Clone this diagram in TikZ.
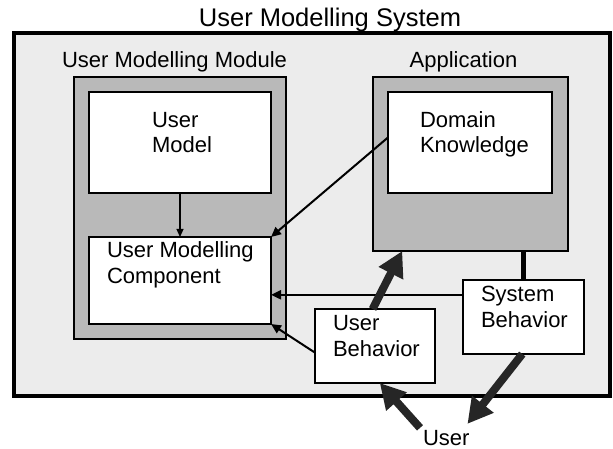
\documentclass[tikz,border=0pt]{standalone}
\usepackage{fontspec}
\setmainfont{Liberation Sans}
\usetikzlibrary{arrows.meta,calc}
\begin{document}
\begin{tikzpicture}[x=1pt,y=-1pt,
  lbl/.style={font=\fontsize{22}{25}\selectfont, inner sep=0pt, outer sep=0pt, anchor=base west},
  head/.style={font=\fontsize{22}{25}\selectfont, inner sep=0pt, anchor=base},
  panel/.style={draw, line width=2.2pt, fill=gray!55, inner sep=0pt, outer sep=0pt, anchor=north west},
  wbox/.style={draw, line width=2.2pt, fill=white, inner sep=0pt, outer sep=0pt, anchor=north west},
  fine/.style={line width=1.2pt, -{Triangle[length=8pt,width=7pt]}},
  link/.style={line width=2pt, -{Triangle[length=10pt,width=9pt]}},
  fat/.style={line width=8pt, black!85, -{Triangle[length=25pt,width=26pt]}},
]
\useasboundingbox (0,0) rectangle (613,449);

% system frame and its title
\node[draw, line width=3.5pt, fill=gray!15, inner sep=0pt, outer sep=0pt,
      minimum width=596pt, minimum height=363pt, anchor=north west] (sys) at (14,33) {};
\node[font=\fontsize{25.5}{28}\selectfont, inner sep=0pt, anchor=base] (title) at (330,27) {User Modelling System};

% module panels
\node[head] (ummlbl) at (174.5,68) {User Modelling Module};
\node[head] (applbl) at (463.5,68) {Application};
\node[panel, minimum width=212pt, minimum height=262pt] (umm) at (74,77) {};
\node[panel, minimum width=195pt, minimum height=174pt] (app) at (373,77) {};

% white component boxes
\node[wbox, minimum width=182pt, minimum height=101pt] (um)  at (89,92) {};
\node[wbox, minimum width=182pt, minimum height=87pt]  (umc) at (89,237) {};
\node[wbox, minimum width=164pt, minimum height=101pt] (dk)  at (388,92) {};
\node[wbox, minimum width=120pt, minimum height=74pt]  (ub)  at (315,309) {};
\node[wbox, minimum width=121pt, minimum height=74pt]  (sb)  at (463,280) {};

% box texts
\node[lbl] (um1)  at (152,128) {User};
\node[lbl] (um2)  at (152,153) {Model};
\node[lbl] (dk1)  at (420,128) {Domain};
\node[lbl] (dk2)  at (420,153) {Knowledge};
\node[lbl] (umc1) at (107,258) {User Modelling};
\node[lbl] (umc2) at (107,283) {Component};
\node[lbl] (ub1)  at (333,330) {User};
\node[lbl] (ub2)  at (333,356) {Behavior};
\node[lbl] (sb1)  at (481,301) {System};
\node[lbl] (sb2)  at (481,327) {Behavior};
\node[lbl] (user) at (423,445) {User};

% connectors
\draw[fine] (um.south) -- (um.south |- umc.north);
\draw[link] ($(dk.north west)!0.45!(dk.south west)$) -- (umc.north east);
\coordinate (sbout) at ($(sb.north west)!0.2!(sb.south west)$);
\draw[link] (sbout) -- (umc.east |- sbout);
\draw[link] ($(ub.north west)!0.59!(ub.south west)$) -- (umc.south east);
\draw[line width=4.5pt] (sb.north) -- (sb.north |- app.south);

\draw[fat] ($(ub.north west)!0.48!(ub.north east)$) -- ($(app.south west)!0.15!(app.south east)$);
\draw[fat] ($(sb.south west)!0.49!(sb.south east)$) -- ([shift={(-2,-6)}]user.north east);
\draw[fat] ([shift={(-3,-2)}]user.north west) -- ($(ub.south west)!0.54!(ub.south east)$);
\end{tikzpicture}
\end{document}
